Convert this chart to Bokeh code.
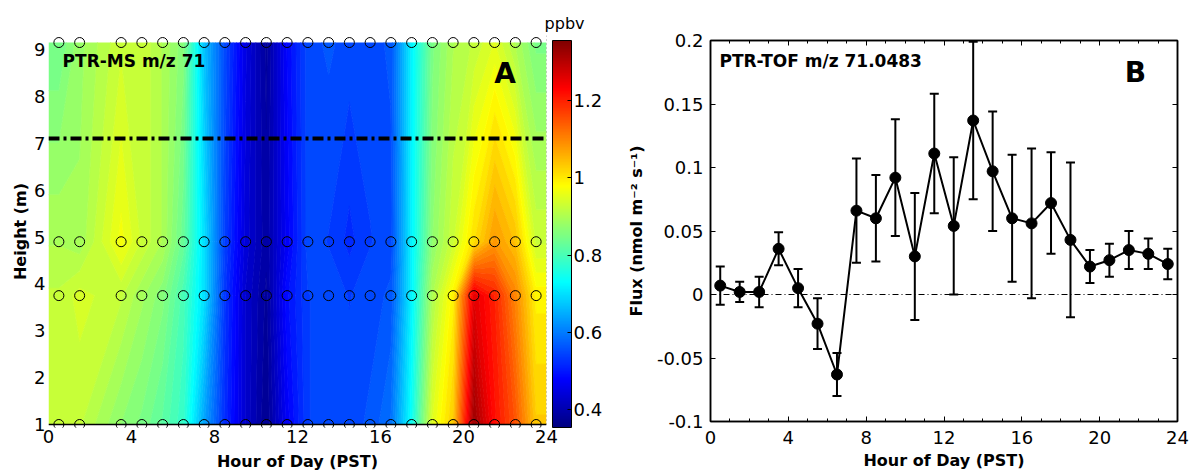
import numpy as np
from jinja2 import Template
from bokeh.plotting import figure
from bokeh.models import (ColorBar, LinearColorMapper, FixedTicker, Span, Label,
                          LinearAxis, Whisker, ColumnDataSource, CustomJSTickFormatter,
                          TeeHead, SingleIntervalTicker)
from bokeh.embed import file_html
from bokeh.resources import INLINE

# ---------------- data: panel A (PTR-MS m/z 71, ppbv) ----------------
hours_a = [0.5, 1.5, 3.5, 4.5, 5.5, 6.5, 7.5, 8.5, 9.5, 10.5, 11.5, 12.5,
           13.5, 14.5, 15.5, 16.5, 17.5, 18.5, 19.5, 20.5, 21.5, 22.5, 23.5]
heights = [1.0, 3.75, 4.9, 9.15]
conc_1m = [0.93, 0.92, 0.87, 0.85, 0.82, 0.78, 0.64, 0.52, 0.43, 0.37, 0.47, 0.54,
           0.55, 0.55, 0.56, 0.59, 0.74, 0.95, 1.03, 1.33, 1.22, 1.15, 1.03]
conc_375m = [0.92, 0.94, 0.92, 0.89, 0.86, 0.80, 0.70, 0.53, 0.43, 0.38, 0.49, 0.54,
             0.55, 0.54, 0.55, 0.56, 0.72, 0.90, 0.99, 1.26, 1.20, 1.10, 0.99]
conc_49m = [0.90, 0.89, 0.97, 0.93, 0.90, 0.83, 0.70, 0.54, 0.44, 0.39, 0.47, 0.55,
            0.54, 0.52, 0.54, 0.55, 0.72, 0.87, 0.93, 1.01, 1.08, 1.04, 0.93]
conc_915m = [0.84, 0.88, 0.93, 0.93, 0.90, 0.86, 0.67, 0.55, 0.45, 0.38, 0.48, 0.55,
             0.56, 0.55, 0.55, 0.56, 0.72, 0.85, 0.90, 0.92, 0.95, 0.90, 0.85]
canopy_height = 7.1
c_min, c_max = 0.353, 1.356
cbar_ticks = [0.4, 0.6, 0.8, 1.0, 1.2]

# ---------------- data: panel B (PTR-TOF m/z 71.0483 flux) ----------------
hours_b = [0.5, 1.5, 2.5, 3.5, 4.5, 5.5, 6.5, 7.5, 8.5, 9.5, 10.5, 11.5,
           12.5, 13.5, 14.5, 15.5, 16.5, 17.5, 18.5, 19.5, 20.5, 21.5, 22.5, 23.5]
flux = [0.007, 0.002, 0.002, 0.036, 0.005, -0.023, -0.063, 0.066, 0.060, 0.092, 0.030, 0.111,
        0.054, 0.137, 0.097, 0.060, 0.056, 0.072, 0.043, 0.022, 0.027, 0.035, 0.032, 0.024]
flux_err = [0.015, 0.008, 0.012, 0.013, 0.015, 0.020, 0.017, 0.041, 0.034, 0.046, 0.050, 0.047,
            0.054, 0.062, 0.047, 0.050, 0.059, 0.040, 0.061, 0.013, 0.013, 0.015, 0.012, 0.012]
x_ticks = [0, 4, 8, 12, 16, 20, 24]
flux_ticks = [-0.1, -0.05, 0, 0.05, 0.1, 0.15, 0.2]

FONT = "DejaVu Sans"
TICK_SIZE = "18px"
LABEL_SIZE = "16px"
H = 467


def jet(t):
    r = min(max(1.5 - abs(4 * t - 3), 0), 1)
    g = min(max(1.5 - abs(4 * t - 2), 0), 1)
    b = min(max(1.5 - abs(4 * t - 1), 0), 1)
    return "#%02x%02x%02x" % (int(round(r * 255)), int(round(g * 255)), int(round(b * 255)))


nb = 64
levels = np.linspace(c_min, c_max, nb + 1)
band_colors = [jet((i + 0.5) / nb) for i in range(nb)]
line_colors = [jet(i / nb) for i in range(nb + 1)]
jet256 = [jet((i + 0.5) / 256) for i in range(256)]

fmt = CustomJSTickFormatter(code="return String(Math.round(tick*1000)/1000);")
blank_fmt = CustomJSTickFormatter(code="return '';")


def style_axis(ax):
    ax.major_label_text_font = FONT
    ax.major_label_text_font_size = TICK_SIZE
    ax.major_label_text_color = "black"
    ax.axis_label_text_font = FONT
    ax.axis_label_text_font_size = LABEL_SIZE
    ax.axis_label_text_font_style = "bold"
    ax.axis_label_text_color = "black"


# ---------------- panel A ----------------
pa = figure(width=600, height=H, x_range=(0, 24), y_range=(0.936, 9.30),
            output_backend="svg", toolbar_location=None,
            min_border_left=40, min_border_right=62, min_border_top=25, min_border_bottom=48)
pa.grid.visible = False
pa.outline_line_color = None
pa.title.text = "ppbv"
pa.title.align = "right"
pa.title.offset = -38
pa.title.standoff = 6
pa.title.text_font = FONT
pa.title.text_font_size = "16px"
pa.title.text_font_style = "normal"
pa.title.text_color = "black"

z = np.array([conc_1m, conc_375m, conc_49m, conc_915m])
z = np.concatenate([z[:, :1], z, z[:, -1:]], axis=1)
xg = np.array([0.0] + hours_a + [24.0])
yg = np.array(heights)
pa.contour(xg, yg, z, levels, fill_color=band_colors, line_color=line_colors, line_width=1.0)

pa.add_layout(Span(location=1.0, dimension="width", line_color="black", line_width=1.5))
pa.add_layout(Span(location=24, dimension="height", line_color="black", line_width=1,
                   line_dash="1 3", line_alpha=0.7))
pa.add_layout(Span(location=canopy_height, dimension="width", line_color="black",
                   line_width=4, line_dash="11 4 3 4"))

hx = [h for _ in heights for h in hours_a]
hy = [y for y in heights for _ in hours_a]
pa.scatter(hx, hy, marker="circle", size=10, fill_color=None, line_color="black", line_width=1)

xa = pa.below[0]
ya = pa.left[0]
xa.ticker = FixedTicker(ticks=x_ticks)
ya.ticker = FixedTicker(ticks=list(range(1, 10)))
for ax in (xa, ya):
    style_axis(ax)
    ax.axis_line_color = None
    ax.major_tick_line_color = None
    ax.minor_tick_line_color = None
    ax.major_tick_out = 0
    ax.major_tick_in = 0
    ax.minor_tick_out = 0
    ax.minor_tick_in = 0
xa.axis_label = "Hour of Day (PST)"
ya.axis_label = "Height (m)"
xa.major_label_standoff = 2
xa.axis_label_standoff = 6
ya.major_label_standoff = 3
ya.axis_label_standoff = 1

mapper = LinearColorMapper(palette=jet256, low=c_min, high=c_max)
cb = ColorBar(color_mapper=mapper, location=(6, 0), orientation="vertical",
              width=19, height=387, margin=0, padding=0,
              ticker=FixedTicker(ticks=cbar_ticks), formatter=fmt,
              major_label_text_font=FONT, major_label_text_font_size=TICK_SIZE,
              major_label_text_color="black", label_standoff=2,
              major_tick_in=4, major_tick_out=0, major_tick_line_color="black",
              minor_tick_line_color=None, bar_line_color="black", bar_line_width=1,
              background_fill_color=None, border_line_color=None)
pa.add_layout(cb, "right")

pa.add_layout(Label(x=0.68, y=8.75, text="PTR-MS m/z 71", text_font=FONT,
                    text_font_size="17px", text_font_style="bold",
                    text_baseline="middle", text_color="black"))
pa.add_layout(Label(x=22.0, y=8.49, text="A", text_font=FONT, text_font_size="28px",
                    text_font_style="bold", text_align="center", text_baseline="middle",
                    text_color="black"))

# ---------------- panel B ----------------
pb = figure(width=583, height=H, x_range=(0, 24), y_range=(-0.1, 0.2),
            output_backend="svg", toolbar_location=None,
            min_border_left=102, min_border_right=14, min_border_top=32, min_border_bottom=54)
pb.grid.visible = False
pb.outline_line_color = "black"
pb.outline_line_width = 1.5

xb = pb.below[0]
yb = pb.left[0]
xb.ticker = SingleIntervalTicker(interval=4, num_minor_ticks=4)
yb.ticker = FixedTicker(ticks=flux_ticks)
xb_top = LinearAxis(ticker=SingleIntervalTicker(interval=4, num_minor_ticks=4))
yb_right = LinearAxis(ticker=FixedTicker(ticks=flux_ticks))
pb.add_layout(xb_top, "above")
pb.add_layout(yb_right, "right")
for ax in (xb, yb, xb_top, yb_right):
    style_axis(ax)
    ax.formatter = fmt
    ax.axis_line_width = 1.5
    ax.major_tick_in = 5
    ax.major_tick_out = 0
    ax.minor_tick_in = 3
    ax.minor_tick_out = 0
for ax in (xb_top, yb_right):
    ax.formatter = blank_fmt
    ax.major_label_standoff = 0
    ax.axis_label_standoff = 0
yb.minor_tick_line_color = None
yb_right.minor_tick_line_color = None
xb.axis_label = "Hour of Day (PST)"
yb.axis_label = "Flux (nmol m\u207b\u00b2 s\u207b\u00b9)"
xb.major_label_standoff = 9
xb.axis_label_standoff = 4
yb.major_label_standoff = 7
yb.axis_label_standoff = 8

pb.add_layout(Span(location=0, dimension="width", line_color="black", line_width=1,
                   line_dash="6 3 1 3"))

src = ColumnDataSource(dict(x=hours_b, y=flux,
                            upper=[f + e for f, e in zip(flux, flux_err)],
                            lower=[f - e for f, e in zip(flux, flux_err)]))
pb.add_layout(Whisker(base="x", upper="upper", lower="lower", source=src,
                      line_color="black", line_width=2,
                      upper_head=TeeHead(size=9, line_width=2, line_color="black"),
                      lower_head=TeeHead(size=9, line_width=2, line_color="black")))
pb.line("x", "y", source=src, line_color="black", line_width=2)
pb.scatter("x", "y", source=src, marker="circle", size=11, fill_color="black", line_color="black")

pb.add_layout(Label(x=0.46, y=0.184, text="PTR-TOF m/z 71.0483", text_font=FONT,
                    text_font_size="17px", text_font_style="bold", text_baseline="middle",
                    text_color="black"))
pb.add_layout(Label(x=21.84, y=0.175, text="B", text_font=FONT, text_font_size="28px",
                    text_font_style="bold", text_align="center", text_baseline="middle",
                    text_color="black"))

TEMPLATE = Template("""<!DOCTYPE html>
<html lang="en">
<head>
<meta charset="utf-8">
<title>{{ title }}</title>
{{ bokeh_css }}
{{ bokeh_js }}
<style>
html, body { padding: 0; overflow: hidden; }
html { margin: 0; }
body { margin: 8px 8px 0 8px; }
.wrap { display: flex; flex-direction: row; align-items: flex-start; }
</style>
</head>
<body>
<div class="wrap">
{{ plot_div }}
</div>
{{ plot_script }}
</body>
</html>""")

open("out.html", "w").write(file_html([pa, pb], INLINE, template=TEMPLATE))
